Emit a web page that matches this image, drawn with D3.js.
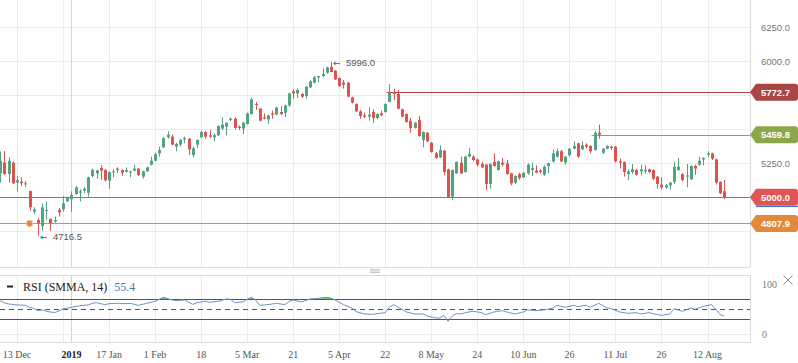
<!DOCTYPE html>
<html>
<head>
<meta charset="utf-8">
<script src="https://cdn.jsdelivr.net/npm/d3@7/dist/d3.min.js"></script>
<style>
    body { margin: 0; background: #fff; }
    svg { display: block; }
</style>
</head>
<body>
<script>
// daily candles, one entry per bar (bar 0 = left edge)
const opens = [5176, 5255, 5171, 5255, 5108, 5115, 5096, 5046, 4894, 4833,
    4789, 4899, 4841, 4823, 4907, 4911, 4970, 4985, 5024, 5034,
    5049, 5034, 5157, 5176, 5215, 5201, 5122, 5186, 5211, 5201,
    5188, 5186, 5196, 5211, 5152, 5191, 5240, 5269, 5323, 5367,
    5441, 5446, 5372, 5387, 5426, 5431, 5311, 5387, 5441, 5480,
    5456, 5441, 5456, 5505, 5519, 5568, 5578, 5519, 5505, 5539,
    5612, 5686, 5652, 5588, 5573, 5617, 5608, 5627, 5622, 5676,
    5779, 5764, 5760, 5745, 5808, 5843, 5882, 5892, 5916, 5960,
    5931, 5877, 5843, 5843, 5735, 5686, 5632, 5603, 5593, 5627,
    5583, 5617, 5627, 5701, 5774, 5760, 5647, 5612, 5563, 5510,
    5568, 5421, 5475, 5402, 5323, 5294, 5343, 5206, 5005, 5176,
    5255, 5186, 5299, 5299, 5279, 5245, 5240, 5098, 5260, 5201,
    5255, 5250, 5176, 5108, 5171, 5147, 5176, 5201, 5196, 5196,
    5166, 5230, 5264, 5299, 5338, 5255, 5309, 5358, 5397, 5353,
    5387, 5377, 5348, 5475, 5328, 5358, 5372, 5372, 5264, 5260,
    5171, 5186, 5201, 5191, 5191, 5206, 5201, 5152, 5093, 5073,
    5088, 5113, 5201, 5171, 5152, 5132, 5230, 5240, 5279, 5313,
    5323, 5279, 5113, 5044]
const highs = [5336, 5340, 5294, 5264, 5157, 5147, 5120, 5048, 4926, 4845,
    4956, 4968, 4843, 4858, 4921, 5010, 5005, 5044, 5083, 5058,
    5078, 5152, 5211, 5201, 5237, 5206, 5191, 5206, 5220, 5206,
    5220, 5196, 5240, 5215, 5196, 5225, 5299, 5328, 5372, 5441,
    5485, 5461, 5402, 5431, 5446, 5436, 5372, 5426, 5490, 5485,
    5495, 5470, 5529, 5588, 5549, 5588, 5588, 5529, 5554, 5622,
    5735, 5701, 5657, 5617, 5608, 5637, 5666, 5671, 5681, 5769,
    5794, 5799, 5769, 5818, 5862, 5892, 5892, 5946, 5960, 5996,
    5936, 5882, 5862, 5848, 5740, 5691, 5642, 5622, 5661, 5647,
    5617, 5637, 5691, 5833, 5799, 5789, 5652, 5617, 5583, 5554,
    5598, 5485, 5480, 5407, 5333, 5382, 5348, 5211, 5206, 5264,
    5299, 5304, 5362, 5309, 5284, 5260, 5245, 5250, 5323, 5269,
    5289, 5274, 5181, 5161, 5181, 5186, 5250, 5255, 5235, 5206,
    5235, 5255, 5353, 5358, 5348, 5304, 5362, 5411, 5402, 5411,
    5397, 5382, 5485, 5534, 5362, 5382, 5377, 5377, 5284, 5264,
    5206, 5245, 5211, 5240, 5235, 5211, 5206, 5157, 5147, 5098,
    5113, 5260, 5289, 5176, 5245, 5235, 5240, 5299, 5294, 5338,
    5328, 5284, 5117, 5127]
const lows = [5108, 5165, 5108, 5098, 5041, 5083, 5073, 4902, 4877, 4716.5,
    4752, 4833, 4752, 4813, 4858, 4894, 4966, 4892, 5019, 4970,
    5029, 5005, 5147, 5137, 5127, 5117, 5063, 5147, 5181, 5159,
    5181, 5147, 5191, 5157, 5137, 5186, 5235, 5264, 5299, 5362,
    5431, 5382, 5338, 5372, 5397, 5311, 5294, 5362, 5436, 5431,
    5436, 5411, 5451, 5495, 5456, 5559, 5500, 5495, 5465, 5534,
    5608, 5642, 5559, 5573, 5539, 5578, 5603, 5603, 5588, 5666,
    5725, 5730, 5730, 5725, 5804, 5838, 5843, 5882, 5907, 5921,
    5862, 5813, 5799, 5735, 5691, 5627, 5578, 5583, 5563, 5549,
    5573, 5598, 5622, 5701, 5715, 5647, 5588, 5549, 5475, 5505,
    5446, 5367, 5407, 5328, 5284, 5289, 5161, 5000, 4980, 5171,
    5171, 5181, 5294, 5264, 5225, 5215, 5054, 5063, 5225, 5196,
    5225, 5166, 5088, 5098, 5127, 5142, 5166, 5157, 5176, 5176,
    5157, 5176, 5255, 5294, 5260, 5240, 5299, 5353, 5289, 5348,
    5358, 5323, 5343, 5431, 5318, 5353, 5348, 5255, 5211, 5152,
    5127, 5171, 5161, 5161, 5176, 5176, 5127, 5063, 5058, 5063,
    5054, 5098, 5196, 5117, 5073, 5127, 5166, 5230, 5235, 5294,
    5274, 5093, 5024, 4985]
const closes = [5269, 5171, 5269, 5103, 5127, 5103, 5103, 4926, 4911, 4808,
    4926, 4907, 4808, 4833, 4889, 4956, 4995, 5017, 5073, 5044,
    5063, 5147, 5201, 5198, 5196, 5125, 5186, 5191, 5201, 5181,
    5201, 5191, 5211, 5164, 5191, 5220, 5269, 5318, 5348, 5436,
    5461, 5387, 5392, 5421, 5436, 5353, 5360, 5421, 5480, 5446,
    5446, 5456, 5524, 5534, 5549, 5578, 5510, 5510, 5549, 5617,
    5720, 5681, 5563, 5578, 5603, 5608, 5661, 5612, 5676, 5764,
    5764, 5789, 5740, 5813, 5853, 5882, 5892, 5907, 5956, 5921,
    5867, 5818, 5828, 5740, 5696, 5632, 5598, 5593, 5608, 5583,
    5612, 5603, 5686, 5769, 5760, 5652, 5593, 5554, 5510, 5549,
    5451, 5480, 5411, 5333, 5289, 5348, 5186, 5000, 5201, 5260,
    5176, 5299, 5318, 5274, 5240, 5220, 5098, 5245, 5230, 5264,
    5240, 5171, 5103, 5157, 5142, 5181, 5240, 5215, 5181, 5186,
    5225, 5250, 5323, 5338, 5264, 5299, 5358, 5377, 5299, 5382,
    5372, 5338, 5475, 5460, 5358, 5377, 5362, 5264, 5255, 5186,
    5191, 5206, 5166, 5206, 5201, 5186, 5137, 5098, 5073, 5088,
    5108, 5225, 5225, 5127, 5161, 5230, 5211, 5269, 5289, 5323,
    5284, 5108, 5029, 5000]

// RSI (bar index -> value)
const rsiBars = [0, 1, 2, 4, 6, 7, 8, 9, 10, 11, 13, 14, 15, 17, 19, 21, 22, 23, 25, 26,
    28, 30, 31, 33, 35, 37, 38, 39, 41, 42, 44, 46, 47, 49, 50, 52, 54, 55, 56, 58,
    59, 60, 61, 62, 64, 65, 66, 68, 69, 70, 72, 73, 74, 76, 78, 79, 80, 82, 84, 85,
    87, 89, 90, 92, 93, 94, 96, 97, 99, 101, 102, 104, 105, 106, 107, 108, 109, 110, 112, 113,
    115, 116, 118, 120, 121, 123, 125, 126, 128, 130, 132, 133, 135, 137, 138, 140, 141, 143, 145, 146,
    148, 150, 152, 153, 155, 157, 158, 160, 161, 163, 165, 166, 168, 170, 171, 172, 173]
const rsiValues = [67, 63, 60.7, 58.7, 58, 54, 52, 47.3, 48.7, 46, 43.3, 46.7, 50.7, 54, 57.3, 58.7, 62, 63.3, 59.3, 61.3,
    62, 61.3, 62, 58, 62, 66, 70, 74, 68.7, 67.3, 68.7, 60, 63.3, 66, 64, 66, 70.7, 70, 63.3, 64.7,
    70, 74, 68.7, 58, 59.3, 60.7, 62, 59.3, 65.3, 68.7, 64.7, 67.3, 70.7, 72, 74, 72.7, 68.7, 59.3, 52.7, 45.3,
    40.7, 40, 41.3, 43.3, 54, 59.3, 50, 44.7, 40.7, 40.7, 36.7, 32.7, 32.7, 38, 26, 36.7, 41.3, 40.7, 44.7, 46,
    43.3, 39.3, 44.7, 47.3, 44.7, 40.7, 44.7, 48.7, 47.3, 48.7, 52.7, 58, 54, 58, 55.3, 58, 54, 62, 52.7, 51.3,
    44.7, 42, 43.3, 40.7, 43.3, 39.3, 38, 40.7, 51.3, 46, 52.7, 50, 56, 59.3, 50, 39.3, 36.7]

const priceTicks = [4750, 5000, 5250, 5500, 5750, 6000, 6250]
const tickBars = [4, 15, 26, 37, 48, 59, 70, 81, 92, 103, 114, 125, 136, 147, 158, 169]
const tickLabels = ['13 Dec', '', '17 Jan', '1 Feb', '18', '5 Mar', '21', '5 Apr', '22',
    '8 May', '24', '10 Jun', '26', '11 Jul', '26', '12 Aug']
const yearBar = 17
const yearLabel = '2019'

// horizontal levels drawn on the chart
const levelValues = [5772.7, 5459.8, 5000.0, 4807.9]
const levelStarts = [92.3, 141.3, 0, 0]
const levelColors = ['#b0403e', '#8aa84a', '#e05252', '#e08a3a']
const levelTagColors = ['#a94543', '#8aa84a', '#e05656', '#e08a3a']

const highBar = 79
const lowBar = 9
const dotBar = 7

const upColor = '#53a37f'
const downColor = '#e0524f'

const width = 798
const height = 363
const plotRight = 750
const mainBottom = 267
const rsiTop = 275
const rsiBottom = 342

const x = d3.scaleLinear().domain([0, 179]).range([0.26, 0.26 + 179 * 4.185])
const y = d3.scaleLinear().domain([4750, 6250]).range([231.3, 27.3])
const yRsi = d3.scaleLinear().domain([0, 100]).range([334.3, 284.3])
const px = v => Math.round(v) + 0.5

const svg = d3.select('body').append('svg')
    .attr('width', width)
    .attr('height', height)
    .attr('viewBox', [0, 0, width, height])

// grid
const grid = svg.append('g')
    .attr('stroke', '#ececec')
    .attr('stroke-width', 1)

grid.selectAll('line.h')
    .data(priceTicks)
    .join('line')
        .attr('class', 'h')
        .attr('x1', 0)
        .attr('x2', plotRight)
        .attr('y1', d => px(y(d)))
        .attr('y2', d => px(y(d)))

for (const [top, bottom] of [[0, mainBottom], [rsiTop, rsiBottom]]) {
    grid.append('g')
        .selectAll('line')
        .data(tickBars)
        .join('line')
            .attr('x1', d => px(x(d)))
            .attr('x2', d => px(x(d)))
            .attr('y1', top)
            .attr('y2', bottom)
    grid.append('line')
        .attr('stroke', '#d6d6d6')
        .attr('x1', px(x(yearBar)))
        .attr('x2', px(x(yearBar)))
        .attr('y1', top)
        .attr('y2', bottom)
}

grid.append('line')
    .attr('x1', 0).attr('x2', plotRight)
    .attr('y1', px(yRsi(0))).attr('y2', px(yRsi(0)))

// pane borders
const borders = svg.append('g')
    .attr('stroke', '#dcdcdc')
    .attr('fill', 'none')
borders.append('line')
    .attr('x1', 0).attr('x2', plotRight)
    .attr('y1', mainBottom + 0.5).attr('y2', mainBottom + 0.5)
borders.append('line')
    .attr('x1', plotRight + 0.5).attr('x2', plotRight + 0.5)
    .attr('y1', 0).attr('y2', mainBottom)
borders.append('rect')
    .attr('x', -1).attr('y', rsiTop + 0.5)
    .attr('width', plotRight + 1.5).attr('height', rsiBottom - rsiTop)

// pane resize handle
svg.append('g')
        .attr('stroke', '#c8c8c8')
    .selectAll('line')
    .data([269.5, 271, 272.5])
    .join('line')
        .attr('x1', 370).attr('x2', 380)
        .attr('y1', d => d).attr('y2', d => d)

// price labels on the right (those under a level tag are hidden, as in the chart)
const freeTicks = priceTicks.filter(t => levelValues.every(v => Math.abs(y(t) - y(v)) > 10))
svg.append('g')
        .attr('font-family', '"Liberation Sans", Arial, sans-serif')
        .attr('font-size', 9.5)
        .attr('fill', '#777')
    .selectAll('text')
    .data(freeTicks)
    .join('text')
        .attr('x', 761)
        .attr('y', d => y(d))
        .attr('dy', '0.35em')
        .text(d => d3.format('.1f')(d))

// level lines
svg.append('g')
    .selectAll('line')
    .data(levelValues)
    .join('line')
        .attr('x1', (d, i) => x(levelStarts[i]) - (levelStarts[i] === 0 ? 1 : 0))
        .attr('x2', plotRight)
        .attr('y1', d => px(y(d)))
        .attr('y2', d => px(y(d)))
        .attr('stroke', (d, i) => levelColors[i])
        .attr('stroke-width', 1.2)

// candles
const candles = d3.range(opens.length).map(i => ({
    i, o: opens[i], h: highs[i], l: lows[i], c: closes[i],
}))
const candle = svg.append('g')
    .selectAll('g')
    .data(candles)
    .join('g')
        .attr('fill', d => d.c >= d.o ? upColor : downColor)
        .attr('stroke', d => d.c >= d.o ? upColor : downColor)

candle.append('line')
    .attr('x1', d => px(x(d.i)))
    .attr('x2', d => px(x(d.i)))
    .attr('y1', d => y(d.h))
    .attr('y2', d => y(d.l))

candle.append('rect')
    .attr('stroke', 'none')
    .attr('x', d => Math.round(x(d.i)) - 1)
    .attr('width', 3)
    .attr('y', d => Math.min(y(d.o), y(d.c)))
    .attr('height', d => Math.max(1, Math.abs(y(d.o) - y(d.c))))

// level tags
const tag = svg.append('g')
    .selectAll('g')
    .data(levelValues)
    .join('g')
        .attr('transform', d => `translate(${plotRight},${y(d)})`)
tag.append('path')
    .attr('d', 'M0,0 L6,-8.5 L45,-8.5 Q48,-8.5 48,-5.5 L48,5.5 Q48,8.5 45,8.5 L6,8.5 Z')
    .attr('fill', (d, i) => levelTagColors[i])
tag.filter(d => d === closes[closes.length - 1])
    .append('rect')
        .attr('x', 6).attr('y', 8.5)
        .attr('width', 42).attr('height', 1.3)
        .attr('fill', '#3f7cc9')
tag.append('text')
    .attr('x', 11)
    .attr('dy', '0.35em')
    .attr('font-family', '"Liberation Sans", Arial, sans-serif')
    .attr('font-size', 9.5)
    .attr('font-weight', 'bold')
    .attr('fill', '#fff')
    .text(d => d3.format('.1f')(d))

// high / low annotations
const note = svg.append('g')
    .attr('font-family', '"Liberation Sans", Arial, sans-serif')
    .attr('font-size', 9.5)
    .attr('fill', '#555')
for (const bar of [highBar, lowBar]) {
    const cy = bar === highBar ? y(highs[bar]) + 1 : y(lows[bar]) + 1
    note.append('text')
        .attr('x', x(bar) + 2)
        .attr('y', cy)
        .attr('dy', '0.35em')
        .attr('font-family', '"DejaVu Sans", sans-serif')
        .attr('font-size', 9)
        .text('\u2190')
    note.append('text')
        .attr('x', x(bar) + 15)
        .attr('y', cy)
        .attr('dy', '0.35em')
        .text(d3.format('.1f')(bar === highBar ? highs[bar] : lows[bar]))
}

svg.append('circle')
    .attr('cx', x(dotBar))
    .attr('cy', y(levelValues[3]))
    .attr('r', 3.3)
    .attr('fill', '#e08a3a')
    .attr('stroke', '#f3c9a0')
    .attr('stroke-width', 1)

// RSI pane
const rsi = rsiBars.map((b, i) => ({b, v: rsiValues[i]}))
const defs = svg.append('defs')
defs.append('clipPath').attr('id', 'clipHigh')
    .append('rect').attr('x', 0).attr('y', rsiTop).attr('width', plotRight).attr('height', yRsi(70) - rsiTop)
defs.append('clipPath').attr('id', 'clipLow')
    .append('rect').attr('x', 0).attr('y', yRsi(30)).attr('width', plotRight).attr('height', rsiBottom - yRsi(30))

svg.append('path')
    .datum(rsi)
    .attr('clip-path', 'url(#clipHigh)')
    .attr('fill', '#6cc96a')
    .attr('d', d3.area().x(d => x(d.b)).y0(yRsi(70)).y1(d => yRsi(d.v)))
svg.append('path')
    .datum(rsi)
    .attr('clip-path', 'url(#clipLow)')
    .attr('fill', '#e86a6a')
    .attr('d', d3.area().x(d => x(d.b)).y0(yRsi(30)).y1(d => yRsi(d.v)))

const bands = svg.append('g')
    .attr('stroke', '#555')
    .attr('stroke-width', 1)
for (const v of [70, 30]) {
    bands.append('line')
        .attr('x1', 0).attr('x2', plotRight)
        .attr('y1', px(yRsi(v))).attr('y2', px(yRsi(v)))
}
bands.append('line')
    .attr('x1', 0).attr('x2', plotRight)
    .attr('y1', px(yRsi(50))).attr('y2', px(yRsi(50)))
    .attr('stroke-dasharray', '5,4')

svg.append('path')
    .datum(rsi)
    .attr('fill', 'none')
    .attr('stroke', '#6f93c8')
    .attr('stroke-width', 1)
    .attr('d', d3.line().x(d => x(d.b)).y(d => yRsi(d.v)))

// RSI legend
svg.append('rect')
    .attr('x', 7).attr('y', 285.5)
    .attr('width', 6).attr('height', 2)
    .attr('fill', '#222')
const legend = svg.append('text')
    .attr('x', 23)
    .attr('y', 290.5)
    .attr('font-family', '"Liberation Serif", "Times New Roman", serif')
    .attr('font-size', 12)
legend.append('tspan').attr('fill', '#222').text('RSI (SMMA, 14)')
legend.append('tspan').attr('fill', '#4a78b5').attr('dx', 7).text('55.4')

// RSI scale labels
svg.append('g')
        .attr('font-family', '"Liberation Serif", "Times New Roman", serif')
        .attr('font-size', 10)
        .attr('fill', '#777')
    .selectAll('text')
    .data([100, 0])
    .join('text')
        .attr('x', 762)
        .attr('y', d => yRsi(d))
        .attr('dy', '0.35em')
        .text(d => d)

svg.append('path')
    .attr('d', 'M783.5,275.5 L792.5,284.5 M792.5,275.5 L783.5,284.5')
    .attr('stroke', '#888')
    .attr('stroke-width', 1)

// time axis
const axis = svg.append('g')
    .attr('font-family', '"Liberation Serif", "Times New Roman", serif')
    .attr('font-size', 10)
    .attr('text-anchor', 'middle')
axis.selectAll('text')
    .data(tickBars.filter((d, i) => tickLabels[i]))
    .join('text')
        .attr('x', d => x(d))
        .attr('y', 357.5)
        .attr('fill', '#555')
        .text(d => tickLabels[tickBars.indexOf(d)])
axis.append('text')
    .attr('x', x(yearBar))
    .attr('y', 357.5)
    .attr('fill', '#222')
    .attr('font-weight', 'bold')
    .text(yearLabel)
</script>
</body>
</html>
